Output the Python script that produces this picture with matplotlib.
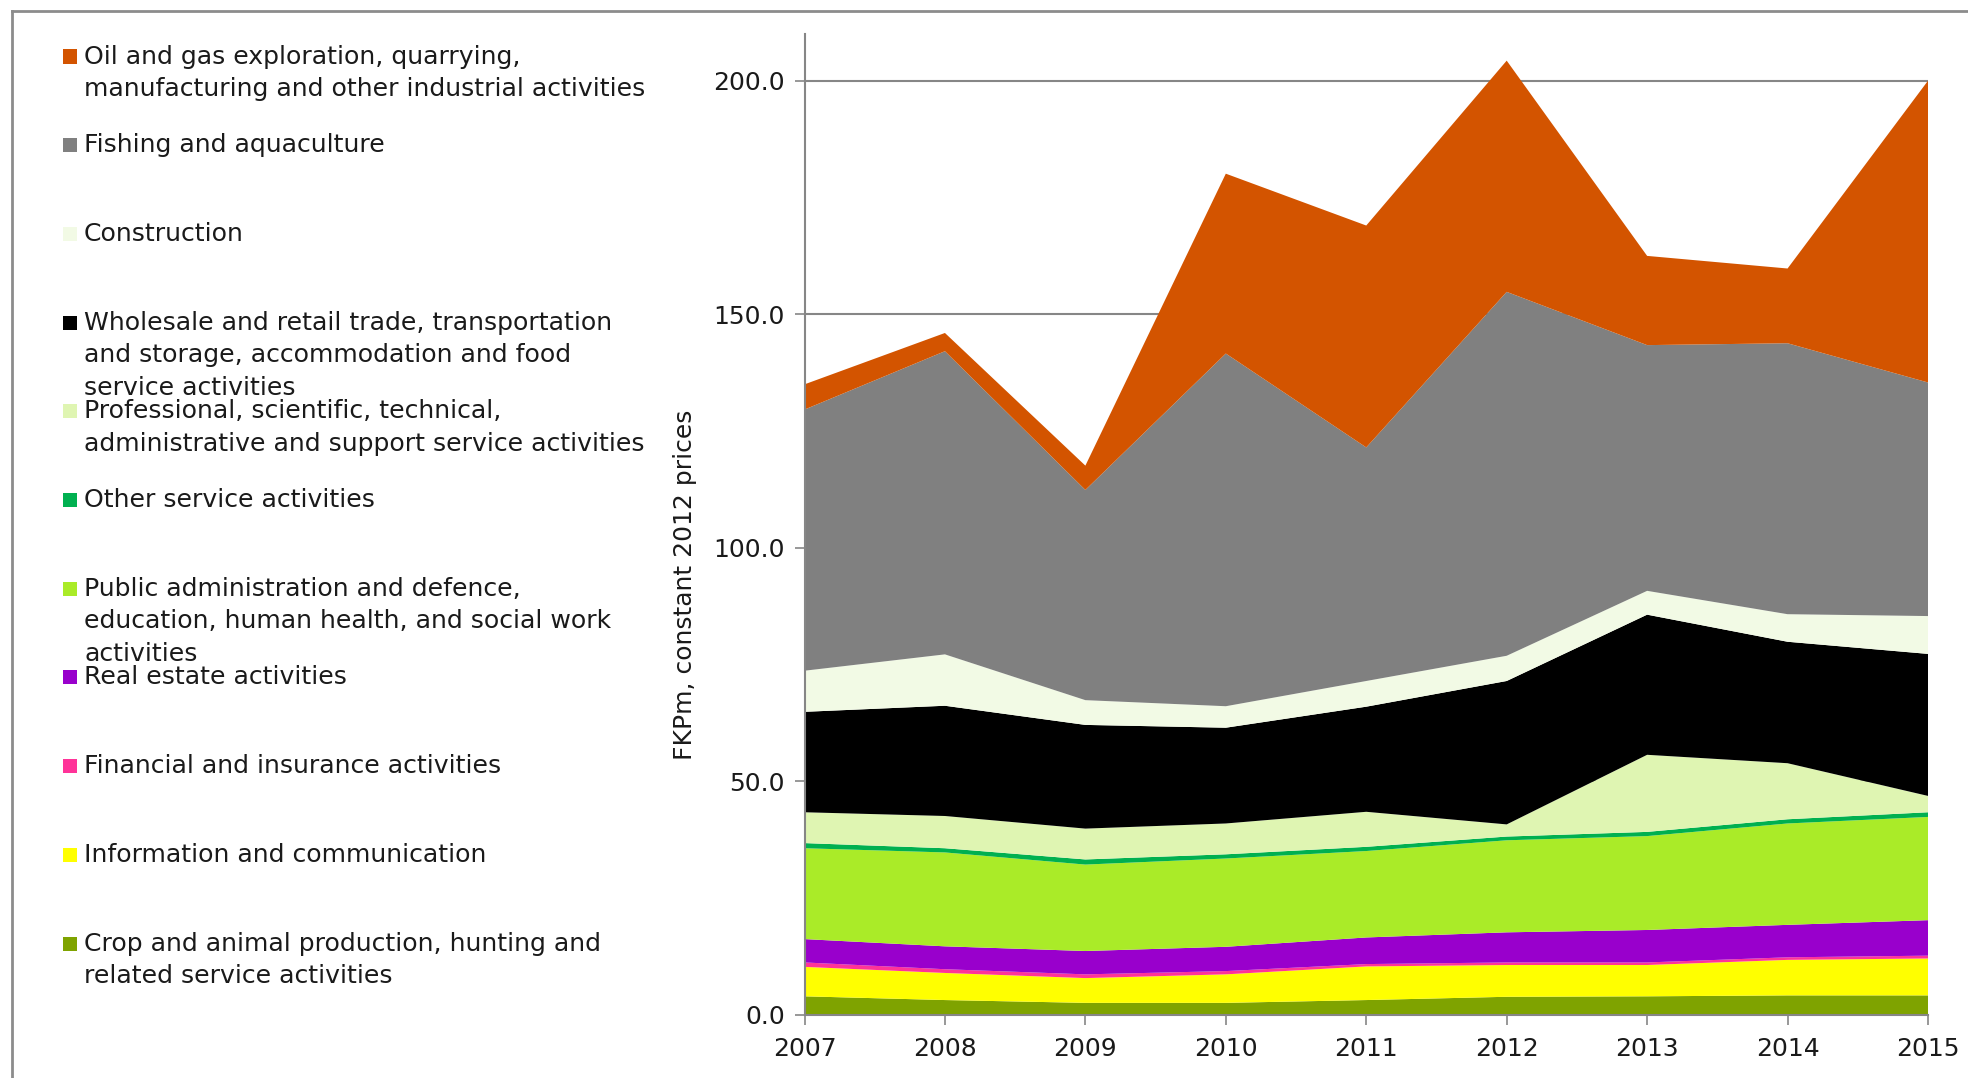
import matplotlib
matplotlib.use("Agg")
import matplotlib.pyplot as plt
from matplotlib.patches import Rectangle
from matplotlib.lines import Line2D
from matplotlib.ticker import FormatStrFormatter

# ---------- DATA (FKPm, constant 2012 prices) ----------
years = [2007, 2008, 2009, 2010, 2011, 2012, 2013, 2014, 2015]

crop = [4.0, 3.2, 2.6, 2.6, 3.2, 3.9, 4.0, 4.2, 4.2]
info = [6.3, 5.8, 5.3, 6.1, 7.2, 6.8, 6.7, 7.6, 7.9]
finance = [0.95, 0.8, 0.8, 0.7, 0.5, 0.55, 0.55, 0.55, 0.6]
real_estate = [5.0, 4.9, 5.0, 5.2, 5.7, 6.45, 6.95, 6.95, 7.6]
public_admin = [19.45, 20.1, 18.5, 18.9, 18.5, 19.7, 20.1, 21.7, 22.1]
other_services = [1.1, 0.9, 1.1, 0.9, 0.9, 0.8, 0.9, 0.9, 1.0]
professional = [6.6, 6.9, 6.6, 6.6, 7.5, 2.6, 16.5, 12.0, 3.5]
wholesale = [21.5, 23.6, 22.2, 20.5, 22.5, 30.7, 30.0, 26.0, 30.4]
construction = [8.8, 11.0, 5.3, 4.6, 5.5, 5.4, 5.1, 5.9, 8.1]
fishing = [55.9, 64.9, 45.0, 75.5, 50.0, 77.9, 52.6, 58.0, 50.0]
oil_gas = [5.4, 3.9, 5.2, 38.5, 47.5, 49.5, 19.1, 16.0, 64.6]

# bottom -> top
series = [crop, info, finance, real_estate, public_admin, other_services,
          professional, wholesale, construction, fishing, oil_gas]
colors = ['#7FA300', '#FFFF00', '#FF3399', '#9900CC', '#AAEB28', '#00B050',
          '#DFF5B2', '#000000', '#F2FAE5', '#808080', '#D35400']

# legend, top -> bottom
legend_labels = [
    "Oil and gas exploration, quarrying,\nmanufacturing and other industrial activities",
    "Fishing and aquaculture",
    "Construction",
    "Wholesale and retail trade, transportation\nand storage, accommodation and food\nservice activities",
    "Professional, scientific, technical,\nadministrative and support service activities",
    "Other service activities",
    "Public administration and defence,\neducation, human health, and social work\nactivities",
    "Real estate activities",
    "Financial and insurance activities",
    "Information and communication",
    "Crop and animal production, hunting and\nrelated service activities",
]
legend_colors = colors[::-1]

# ---------- FIGURE ----------
W, H = 1968, 1078
plt.rcParams['font.family'] = ['DejaVu Sans']
fig = plt.figure(figsize=(W / 100, H / 100), dpi=100)

ax_l, ax_r, ax_b, ax_t = 804.5, 1928, 1015, 34
ax = fig.add_axes([ax_l / W, 1 - ax_b / H, (ax_r - ax_l) / W, (ax_b - ax_t) / H])

ax.stackplot(years, *series, colors=colors, linewidth=0)

ax.set_xlim(2007, 2015)
ax.set_ylim(0, 210)
ax.set_xticks(years)
ax.set_yticks([0, 50, 100, 150, 200])
ax.yaxis.set_major_formatter(FormatStrFormatter('%.1f'))
ax.set_axisbelow(True)
ax.yaxis.grid(True, color='#868686', linewidth=1.5)

for side in ['top', 'right']:
    ax.spines[side].set_visible(False)
for side in ['left', 'bottom']:
    ax.spines[side].set_color('#868686')
    ax.spines[side].set_linewidth(1.5)

ax.tick_params(axis='both', direction='out', length=7, width=1.2,
               color='#868686', labelsize=18, labelcolor='#1a1a1a')
ax.tick_params(axis='y', pad=7)
ax.tick_params(axis='x', pad=9)
ax.set_ylabel("FKPm, constant 2012 prices", fontsize=18, color='#1a1a1a')
ax.yaxis.set_label_coords(-0.096, 0.439)

# ---------- LEGEND (drawn by hand) ----------
first_y = 56.5
step = 88.7
line_h = 32.6
for i, (lab, col) in enumerate(zip(legend_labels, legend_colors)):
    y0 = first_y + i * step
    fig.add_artist(Rectangle((63 / W, 1 - (y0 + 7) / H), 14 / W, 14 / H,
                             transform=fig.transFigure, facecolor=col,
                             edgecolor='none'))
    for k, line in enumerate(lab.split("\n")):
        fig.text(84 / W, 1 - (y0 + k * line_h) / H, line, fontsize=18.1,
                 va='center', ha='left', color='#1a1a1a')

# outer frame (cropped on right and bottom)
fig.add_artist(Line2D([12 / W, 1], [1 - 11 / H, 1 - 11 / H],
                      transform=fig.transFigure, color='#8c8c8c', lw=2))
fig.add_artist(Line2D([12 / W, 12 / W], [0, 1 - 11 / H],
                      transform=fig.transFigure, color='#8c8c8c', lw=2))

fig.savefig("out.png", dpi=100)
